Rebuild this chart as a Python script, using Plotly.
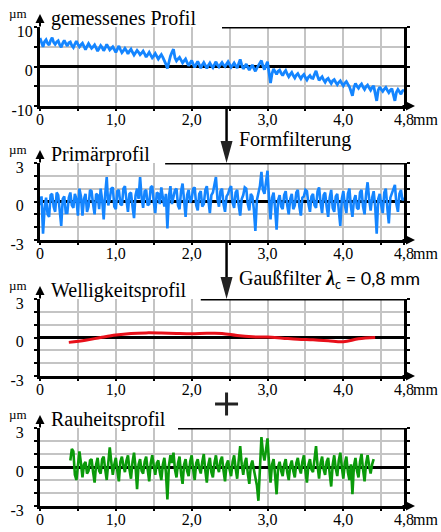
import plotly.graph_objects as go

# ---------------- data ----------------
X_STEP = 0.02  # mm, sampling step of the profiles
# measured profile (um), x = 0 ... 4.8 mm
MEASURED = [7.2, 6.0, 5.0, 6.3, 6.8, 5.9, 5.4, 6.6, 7.3, 6.1,
            5.6, 6.2, 6.5, 5.5, 4.9, 5.9, 6.6, 5.8, 5.2, 6.0,
            6.2, 5.3, 4.8, 5.7, 6.4, 5.6, 5.0, 5.5, 5.9, 5.1,
            4.3, 5.1, 5.8, 5.2, 4.6, 5.0, 5.5, 4.7, 3.9, 4.6,
            5.3, 4.8, 4.0, 4.7, 5.6, 4.9, 4.2, 4.6, 5.0, 4.3,
            3.6, 4.4, 5.2, 4.3, 3.5, 4.0, 4.6, 4.0, 3.2, 3.9,
            4.4, 3.6, 2.9, 3.5, 4.1, 3.6, 3.0, 3.4, 3.9, 3.2,
            2.4, 3.0, 3.6, 2.9, 2.2, 2.7, 3.3, 2.6, 1.9, 2.5,
            3.0, 2.3, 1.6, 0.6, -0.5, 1.4, 2.6, 3.6, 4.4, 2.2,
            1.4, 1.9, 2.3, 1.6, 0.9, 1.4, 1.9, 1.0, 0.2, 0.9,
            1.5, 0.6, -0.2, 0.6, 1.3, 0.5, -0.4, 0.4, 1.0, 0.3,
            -0.5, 0.3, 0.9, 0.2, -0.3, 0.5, 1.2, 0.4, -0.1, 0.5,
            1.0, 0.4, 0.0, 0.6, 1.2, 0.5, -0.2, 0.3, 0.9, 0.2,
            -0.4, 0.7, 1.8, 0.4, -0.6, 0.0, 0.6, -0.2, -0.9, -0.2,
            0.4, -0.5, -1.2, -0.4, 0.2, 0.6, 1.5, 0.1, -0.8, 0.3,
            1.2, -1.5, -4.2, -1.8, -0.6, -1.3, -2.0, -1.2, -0.9, -1.7,
            -2.3, -1.5, -1.0, -1.9, -2.6, -2.0, -1.5, -2.3, -2.9, -2.2,
            -1.8, -2.5, -3.1, -2.4, -2.0, -2.8, -3.4, -2.7, -2.3, -2.9,
            -3.0, -2.0, -1.1, -2.4, -3.5, -3.0, -2.6, -3.4, -4.0, -3.3,
            -3.0, -3.7, -4.3, -3.6, -3.3, -4.0, -4.6, -4.0, -3.6, -4.3,
            -4.9, -4.2, -3.8, -4.5, -5.1, -6.2, -7.4, -5.3, -4.3, -5.0,
            -5.5, -4.8, -4.4, -5.2, -5.8, -5.1, -4.7, -5.4, -6.0, -5.3,
            -4.9, -6.8, -8.7, -6.0, -5.2, -5.8, -6.3, -5.7, -5.3, -6.0,
            -6.6, -6.0, -5.6, -7.2, -8.7, -6.5, -5.8, -6.4, -7.0, -6.2,
            -5.9]
# primary profile (um), x = 0 ... 4.8 mm
PRIMARY = [-0.3, 0.4, -2.5, -0.6, 0.3, -1.0, -1.2, 0.5, 0.6, -0.4,
           -0.8, 0.7, 0.5, -0.6, -1.9, 0.2, 0.4, -0.9, -0.9, 0.3,
           0.7, -0.3, -0.5, 0.6, 0.2, -1.1, 1.0, 0.4, -1.1, 0.2,
           0.6, -0.8, -0.4, 0.9, 0.8, -0.2, -1.0, 0.6, 0.5, -0.6,
           1.0, 0.1, -1.4, 0.6, 1.9, -0.3, 0.2, 1.0, 1.1, -0.4,
           -0.6, 0.8, 0.9, -0.2, -0.3, 1.0, 1.2, 0.1, -0.8, 0.6,
           0.7, -0.4, -1.3, 0.5, 1.0, 0.2, 1.9, 0.3, -0.5, 0.8,
           0.9, -0.3, -0.2, 1.1, 1.2, 0.0, -0.9, 0.7, 0.6, -0.2,
           1.1, 0.3, -0.4, 0.6, -2.1, 0.4, 1.2, -0.2, 0.3, 0.9,
           1.0, -0.3, -0.6, 0.8, 1.4, 0.2, -1.2, 0.5, 0.9, -0.1,
           0.2, 1.0, 1.1, -0.3, -0.7, 0.6, 0.8, -0.4, -0.2, 0.9,
           1.2, 0.1, -0.9, 0.5, 0.7, 1.3, 1.9, 0.2, -0.4, 0.8,
           1.0, -0.2, -0.8, 0.4, 0.6, 1.0, 1.2, -0.1, -0.5, 0.7,
           0.9, -0.3, -1.1, 0.2, 0.5, 1.1, 1.0, -0.2, -0.7, 0.6,
           0.4, -0.6, -2.3, 0.1, 0.8, 1.2, 2.3, 0.9, 0.6, 1.7,
           2.4, 0.2, -1.4, 0.3, 0.7, -0.5, -2.2, 0.1, 0.5, -0.4,
           -0.6, 0.5, 0.8, -0.3, -1.0, 0.2, 0.6, -0.6, -0.3, 0.7,
           0.9, -0.4, -1.1, 0.3, 0.4, 0.9, 0.8, -0.2, -0.8, 0.4,
           0.6, -0.3, -0.5, 0.8, 1.1, -0.1, -0.9, 0.5, 0.7, -0.4,
           -1.2, 0.3, 0.9, -0.5, -0.8, 0.4, 0.6, -0.7, -1.9, 0.2,
           0.8, -0.3, -0.9, 0.6, 1.0, -0.4, -1.2, 0.1, 0.5, -0.5,
           -0.6, 0.7, 0.9, -0.4, -1.0, 0.6, 1.5, 0.2, -0.7, 0.3,
           0.8, -0.4, -2.5, 0.2, 0.6, -0.3, -0.9, 0.7, 1.0, -0.5,
           -1.7, 0.3, 0.7, 1.1, 1.3, -0.2, -0.8, 0.6, 0.9, 0.1,
           0.3]
# waviness profile (um)
WAVE_X = [0.38, 0.6, 0.8, 1.0, 1.2, 1.4, 1.6, 1.8, 2.0, 2.2, 2.4,
          2.6, 2.8, 3.0, 3.2, 3.4, 3.6, 3.8, 4.0, 4.2, 4.42]
WAVE_Y = [-0.38, -0.22, 0.0, 0.2, 0.32, 0.36, 0.35, 0.32, 0.3, 0.33, 0.32,
          0.15, 0.05, 0.03, -0.05, -0.13, -0.18, -0.25, -0.33, -0.1, 0.0]
# roughness profile (um), x = 0.40 ... 4.40 mm
ROUGH_X0 = 0.40
ROUGH = [0.5, 1.4, 1.2, -0.6, -1.0, 0.4, 1.2, 0.3, -0.8, 0.2,
         0.4, -0.5, -0.3, 0.5, 0.6, -0.4, -1.2, 0.2, 0.7, -0.3,
         -0.5, 0.6, 0.8, -0.2, -1.0, 0.3, 1.5, 0.4, -0.6, 0.2,
         0.7, -0.3, -1.1, 0.4, 0.8, 0.1, -0.4, 0.5, 0.9, -0.2,
         -0.9, 0.4, 1.1, 0.0, -1.7, 0.2, 0.6, -0.3, -0.5, 0.4,
         0.8, -0.2, -1.1, 0.3, 0.9, 0.1, -0.6, 0.3, 0.5, -0.4,
         -1.0, 0.2, 0.7, -0.4, -2.5, 0.1, 0.9, 0.3, 1.1, -0.2,
         -0.8, 0.3, 0.8, -0.5, -1.3, 0.2, 0.6, -0.3, -0.7, 0.4,
         0.9, -0.2, -1.0, 0.3, 0.6, -0.1, -0.5, 0.4, 1.0, -0.3,
         -1.2, 0.2, 0.7, -0.4, -0.8, 0.3, 0.9, 0.0, -0.4, 0.5,
         0.8, -0.3, -1.1, 0.2, 0.5, -0.2, -0.7, 0.4, 0.9, -0.1,
         -0.9, 0.5, 1.6, 0.2, -0.6, 0.3, 0.7, -0.5, -1.3, 0.1,
         0.5, -0.2, -0.8, -1.4, -2.6, 0.4, 2.3, 1.1, 0.5, 1.3,
         2.2, 0.3, -1.2, 0.2, 0.6, -0.6, -2.1, 0.0, 0.4, -0.3,
         -0.7, 0.2, 0.6, -0.4, -1.0, 0.1, 0.5, -0.3, -0.8, 0.3,
         0.7, -0.1, -0.5, 0.4, 0.9, -0.3, -1.2, 0.2, 0.6, -0.2,
         -0.4, 0.6, 1.6, 0.1, -0.9, 0.3, 0.8, -0.2, -0.6, 0.4,
         0.7, -0.5, -1.5, 0.2, 0.9, -0.1, -0.7, 0.5, 1.1, 0.0,
         -0.9, 0.3, 0.8, -0.4, -1.0, 0.2, -2.1, 0.1, 0.7, -0.3,
         -0.8, 0.4, 1.0, -0.2, -1.1, 0.3, 0.9, 0.1, -0.5, 0.2,
         0.6]

TITLES = ["gemessenes Profil", "Primärprofil", "Welligkeitsprofil", "Rauheitsprofil"]
X_TICKS = [0, 1, 2, 3, 4, 4.8]
X_TICKTEXT = ["0", "1,0", "2,0", "3,0", "4,0", "4,8"]
X_MINOR = [0.5, 1.5, 2.5, 3.5, 4.5]
Y_TICKS_1 = [-10, 0, 10]
Y_MINOR_1 = [-5, 5]
Y_TICKS_2 = [-3, 0, 3]
Y_MINOR_2 = [-2, -1, 1, 2]
STEP_LABELS = ["Formfilterung",
               "Gaußfilter <b><i>λ</i></b><span style=\"font-family:Lato;font-size:18px\"><sub>c</sub> = 0,8 mm</span>"]

# ---------------- layout helpers ----------------
W, H = 441, 532
ML, MR = 40, 37
PW = W - ML - MR
TOP_PX = [27, 163, 299, 428]
BOT_PX = [106, 240, 376, 506]
LINE_START = [2.40, 1.65, 2.12, 1.82]   # where the top frame line starts (mm)
ARROW_X = 2.46

def py(px):
    return 1 - px / H

def pxx(px):
    return (px - ML) / PW

SERIF = "Liberation Serif"
BLUE, RED, GREEN = "#1485FF", "#E8101A", "#0A9A0A"
GRID = "#C4C4C4"

xs_main = [round(i * X_STEP, 2) for i in range(len(MEASURED))]
xs_prim = [round(i * X_STEP, 2) for i in range(len(PRIMARY))]
xs_rough = [round(ROUGH_X0 + i * X_STEP, 2) for i in range(len(ROUGH))]

fig = go.Figure()
fig.add_trace(go.Scatter(x=xs_main, y=MEASURED, mode="lines", line=dict(color=BLUE, width=2.8),
                         xaxis="x", yaxis="y", hoverinfo="skip"))
fig.add_trace(go.Scatter(x=xs_prim, y=PRIMARY, mode="lines", line=dict(color=BLUE, width=2.6),
                         xaxis="x2", yaxis="y2", hoverinfo="skip"))
fig.add_trace(go.Scatter(x=WAVE_X, y=WAVE_Y, mode="lines", line=dict(color=RED, width=3, shape="spline"),
                         xaxis="x3", yaxis="y3", hoverinfo="skip"))
fig.add_trace(go.Scatter(x=xs_rough, y=ROUGH, mode="lines", line=dict(color=GREEN, width=2.6),
                         xaxis="x4", yaxis="y4", hoverinfo="skip"))

layout = dict(width=W, height=H, margin=dict(l=ML, r=MR, t=0, b=0, autoexpand=False),
              paper_bgcolor="white", plot_bgcolor="white", showlegend=False,
              font=dict(family=SERIF, size=16, color="black"))
shapes, annos = [], []
for i in range(4):
    n = "" if i == 0 else str(i + 1)
    dom = [py(BOT_PX[i]), py(TOP_PX[i])]
    if i == 0:
        yt, ym, yr = Y_TICKS_1, Y_MINOR_1, [-10, 10]
        ytt = ["-10", "0", "10"]
        ystand = -2
    else:
        yt, ym, yr = Y_TICKS_2, Y_MINOR_2, [-3, 3]
        ytt = ["-3", "0", "3"]
        ystand = 7
    layout["xaxis" + n] = dict(
        domain=[0, 1], anchor="y" + n, range=[0, 4.8], tickvals=X_TICKS, ticktext=X_TICKTEXT,
        showgrid=True, gridcolor=GRID, gridwidth=2, zeroline=False, automargin=False,
        showline=True, linecolor="black", linewidth=3,
        ticks="outside", ticklen=2, tickwidth=2, tickcolor="black",
        tickfont=dict(size=16), fixedrange=True, ticklabelstandoff=-5,
        minor=dict(tickvals=X_MINOR, showgrid=True, gridcolor=GRID, gridwidth=2,
                   ticks="outside", ticklen=2, tickwidth=2, tickcolor="black"))
    layout["yaxis" + n] = dict(
        domain=dom, anchor="x" + n, range=yr, tickvals=yt, ticktext=ytt, automargin=False,
        showgrid=False, zeroline=True, zerolinecolor="black", zerolinewidth=3,
        showline=True, linecolor="black", linewidth=3, mirror="ticks",
        ticks="outside", ticklen=3, tickwidth=2, tickcolor="black",
        tickfont=dict(size=16), fixedrange=True,
        ticklabelstandoff=ystand, ticklabelshift=4,
        minor=dict(tickvals=ym, showgrid=True, gridcolor=GRID, gridwidth=2,
                   ticks="outside", ticklen=3, tickwidth=2, tickcolor="black"))
    # partial top frame line
    shapes.append(dict(type="line", xref="x" + n, yref="y" + n, x0=LINE_START[i], x1=4.8,
                       y0=yr[1], y1=yr[1], line=dict(color="black", width=3)))
    # title
    annos.append(dict(text=TITLES[i], xref="paper", yref="paper", x=pxx(49),
                      y=py(TOP_PX[i] - 9), xanchor="left", yanchor="middle", showarrow=False,
                      font=dict(size=20, family=SERIF)))
    # unit labels
    annos.append(dict(text="µm", xref="paper", yref="paper", x=pxx(18),
                      y=py(TOP_PX[i] - 14), xanchor="center", yanchor="middle", showarrow=False,
                      font=dict(size=13, family=SERIF)))
    annos.append(dict(text="mm", xref="paper", yref="paper", x=pxx(411),
                      y=py(BOT_PX[i] + 13), xanchor="left", yanchor="middle", showarrow=False,
                      font=dict(size=16, family=SERIF)))
    # axis arrows
    annos.append(dict(text="", xref="paper", yref="paper", x=0, y=py(TOP_PX[i] - 13),
                      ax=0, ay=14, showarrow=True, arrowhead=2, arrowsize=0.9, arrowwidth=2,
                      arrowcolor="black"))
    annos.append(dict(text="", xref="paper", yref="paper", x=pxx(415),
                      y=py(BOT_PX[i]), ax=-14, ay=0, showarrow=True, arrowhead=2, arrowsize=0.9,
                      arrowwidth=2, arrowcolor="black"))

# process arrows between panels
for k in range(2):
    shapes.append(dict(type="line", xref="x", yref="paper", x0=ARROW_X, x1=ARROW_X,
                       y0=py(BOT_PX[k]), y1=py(TOP_PX[k + 1] - 12), line=dict(color="black", width=2.5)))
    shapes.append(dict(type="path", xref="x", yref="paper", xsizemode="pixel", ysizemode="pixel",
                       xanchor=ARROW_X, yanchor=py(TOP_PX[k + 1]),
                       path="M0,0 L-6,22 L6,22 Z", fillcolor="#222222", line=dict(width=0)))
    annos.append(dict(text=STEP_LABELS[k], xref="paper", yref="paper",
                      x=pxx(237), y=py([140, 279][k]),
                      xanchor="left", yanchor="middle", showarrow=False,
                      font=dict(size=20, family=SERIF)))
# plus sign
for dx0, dx1, dy0, dy1 in [(-11.5, 11.5, 0, 0), (0, 0, -11.5, 11.5)]:
    shapes.append(dict(type="line", xref="x", yref="paper", xsizemode="pixel", ysizemode="pixel",
                       xanchor=ARROW_X, yanchor=py(404), x0=dx0, x1=dx1, y0=dy0, y1=dy1,
                       line=dict(color="#222222", width=3)))

layout["shapes"] = shapes
layout["annotations"] = annos
fig.update_layout(**layout)
fig.write_html("out.html", config={"displayModeBar": False},
               post_script="document.body.style.margin='0';document.body.style.padding='0';"
                           "document.body.style.overflow='hidden';")
